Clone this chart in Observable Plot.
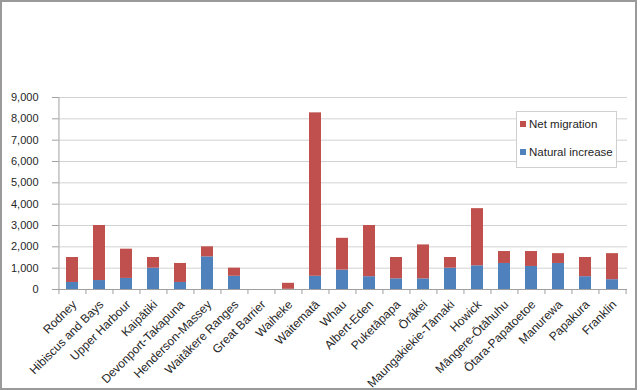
<!DOCTYPE html>
<html><head><meta charset="utf-8">
<script src="https://cdn.jsdelivr.net/npm/d3@7"></script>
<script src="https://cdn.jsdelivr.net/npm/@observablehq/plot@0.6"></script>
<style>
body{margin:0;background:#fff;}
#wrap{position:relative;width:640px;height:390px;font-family:"Liberation Sans",Arial,sans-serif;}
#frame{position:absolute;left:0;top:0;width:637px;height:390px;box-sizing:border-box;border:2px solid #9a9a9a;pointer-events:none;}
#legend{position:absolute;left:516px;top:111px;width:101px;height:57px;box-sizing:border-box;border:1px solid #d0d0d0;background:#fff;font-size:11.5px;color:#262626;}
#legend .row{position:absolute;left:3px;display:flex;align-items:center;white-space:nowrap;}
#legend .sw{width:6px;height:6px;margin-right:3px;}
</style></head><body><div id="wrap"></div>
<script>
const categories = ["Rodney","Hibiscus and Bays","Upper Harbour","Kaipātiki","Devonport-Takapuna","Henderson-Massey","Waitākere Ranges","Great Barrier","Waiheke","Waitematā","Whau","Albert-Eden","Puketāpapa","Ōrākei","Maungakiekie-Tāmaki","Howick","Māngere-Ōtāhuhu","Ōtara-Papatoetoe","Manurewa","Papakura","Franklin"];
const naturalIncrease = [330, 420, 520, 1000, 330, 1530, 620, 0, 10, 620, 910, 600, 500, 500, 1000, 1110, 1220, 1080, 1220, 600, 460];
const netMigration = [1170, 2580, 1370, 500, 890, 470, 380, 0, 280, 7660, 1490, 2400, 1000, 1590, 500, 2680, 560, 700, 460, 900, 1220];
const seriesNames = ["Natural increase", "Net migration"];
const seriesColors = ["#4F81BD", "#C0504D"];
const yTicks = [0, 1000, 2000, 3000, 4000, 5000, 6000, 7000, 8000, 9000];
const legendOrder = ["Net migration", "Natural increase"];

const W = 640, H = 390, mL = 58, mR = 13, mT = 97, mB = 101;
const step = (W - mL - mR) / categories.length;

const table = [];
categories.forEach((c, i) => {
  table.push({cat: c, series: seriesNames[0], value: naturalIncrease[i]});
  table.push({cat: c, series: seriesNames[1], value: netMigration[i]});
});

const chart = Plot.plot({
  width: W, height: H,
  marginLeft: mL, marginRight: mR, marginTop: mT, marginBottom: mB,
  style: {fontFamily: "'Liberation Sans', Arial, sans-serif", fontSize: "11px", color: "#262626", background: "transparent"},
  x: {domain: categories, paddingInner: 0.55, paddingOuter: 0.275, label: null},
  y: {domain: [0, 9000], label: null},
  color: {domain: seriesNames, range: seriesColors},
  marks: [
    Plot.ruleY(yTicks.filter(d => d > 0), {stroke: "#d2d2d2"}),
    Plot.axisY({ticks: yTicks, tickFormat: d3.format(","), tickSize: 6, tickPadding: 14, stroke: "#a0a0a0", fill: "#262626", fontSize: 11, label: null}),
    Plot.barY(table, {x: "cat", y: "value", fill: "series"}),
    Plot.ruleY([0], {stroke: "#a0a0a0"}),
    Plot.ruleX([categories[0]], {dx: -step / 2, y1: 0, y2: 9000, stroke: "#a0a0a0"}),
    Plot.ruleX(categories, {dx: -step / 2, y1: 0, y2: -240, stroke: "#a0a0a0"}),
    Plot.ruleX([categories[categories.length - 1]], {dx: step / 2, y1: 0, y2: -240, stroke: "#a0a0a0"}),
    Plot.axisX({tickSize: 0, tickRotate: -45, tickPadding: 13, dx: 2, fontSize: 12, fill: "#262626", label: null})
  ]
});

const wrap = document.getElementById("wrap");
wrap.appendChild(chart);
const frame = document.createElement("div");
frame.id = "frame";
wrap.appendChild(frame);
const legend = document.createElement("div");
legend.id = "legend";
legendOrder.forEach((name, i) => {
  const row = document.createElement("div");
  row.className = "row";
  row.style.top = (i === 0 ? 6 : 34) + "px";
  const sw = document.createElement("span");
  sw.className = "sw";
  sw.style.background = seriesColors[seriesNames.indexOf(name)];
  const t = document.createElement("span");
  t.textContent = name;
  row.appendChild(sw); row.appendChild(t);
  legend.appendChild(row);
});
wrap.appendChild(legend);
</script></body></html>
